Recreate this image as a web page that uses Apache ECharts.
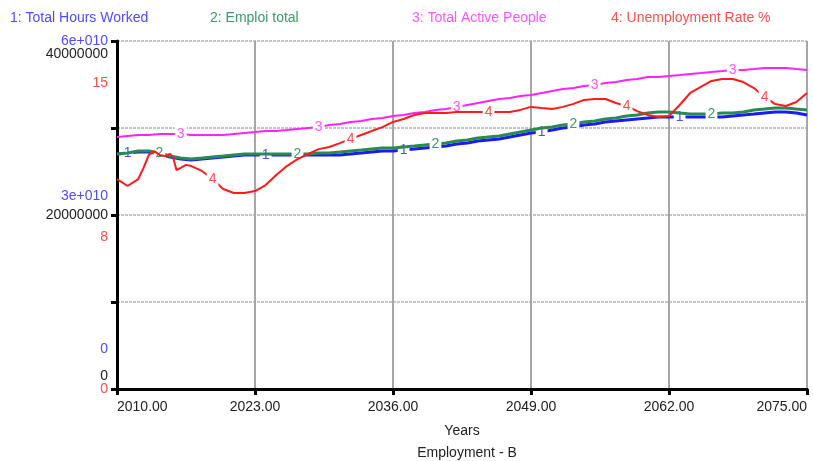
<!DOCTYPE html>
<html><head><meta charset="utf-8">
<script src="https://cdn.jsdelivr.net/npm/echarts@6/dist/echarts.min.js"></script>
<style>html,body{margin:0;padding:0;background:#fff}#c{width:813px;height:461px}</style>
</head><body><div id="c"></div>
<script>
const years = [2010,2011,2012,2013,2014,2015,2016,2017,2018,2019,2020,2021,2022,2023,2024,2025,2026,2027,2028,2029,2030,2031,2032,2033,2034,2035,2036,2037,2038,2039,2040,2041,2042,2043,2044,2045,2046,2047,2048,2049,2050,2051,2052,2053,2054,2055,2056,2057,2058,2059,2060,2061,2062,2063,2064,2065,2066,2067,2068,2069,2070,2071,2072,2073,2074,2075];
const hoursWorked = [4.052e10,4.069e10,4.086e10,4.086e10,4.052e10,4.000e10,3.966e10,3.948e10,3.966e10,3.983e10,4.000e10,4.017e10,4.034e10,4.034e10,4.034e10,4.034e10,4.034e10,4.034e10,4.034e10,4.034e10,4.034e10,4.034e10,4.052e10,4.069e10,4.086e10,4.103e10,4.103e10,4.121e10,4.138e10,4.155e10,4.172e10,4.190e10,4.224e10,4.241e10,4.276e10,4.293e10,4.310e10,4.345e10,4.379e10,4.414e10,4.431e10,4.466e10,4.500e10,4.517e10,4.552e10,4.569e10,4.603e10,4.621e10,4.638e10,4.655e10,4.672e10,4.690e10,4.690e10,4.690e10,4.690e10,4.690e10,4.690e10,4.690e10,4.707e10,4.724e10,4.741e10,4.759e10,4.776e10,4.776e10,4.759e10,4.724e10];
const emploiTotal = [27.01e6,27.13e6,27.36e6,27.36e6,27.13e6,26.78e6,26.55e6,26.44e6,26.55e6,26.67e6,26.78e6,26.90e6,27.01e6,27.01e6,27.01e6,27.01e6,27.01e6,27.01e6,27.01e6,27.13e6,27.13e6,27.24e6,27.36e6,27.47e6,27.59e6,27.70e6,27.70e6,27.82e6,27.93e6,28.05e6,28.16e6,28.28e6,28.51e6,28.62e6,28.85e6,28.97e6,29.08e6,29.31e6,29.54e6,29.77e6,30.00e6,30.11e6,30.34e6,30.46e6,30.69e6,30.80e6,31.03e6,31.15e6,31.38e6,31.49e6,31.72e6,31.84e6,31.84e6,31.72e6,31.61e6,31.61e6,31.61e6,31.72e6,31.72e6,31.84e6,32.07e6,32.18e6,32.30e6,32.30e6,32.18e6,32.07e6];
const activePeople = [28.97e6,29.08e6,29.19e6,29.19e6,29.31e6,29.31e6,29.31e6,29.19e6,29.19e6,29.19e6,29.19e6,29.31e6,29.43e6,29.54e6,29.66e6,29.66e6,29.77e6,29.89e6,30.00e6,30.11e6,30.34e6,30.46e6,30.69e6,30.80e6,31.03e6,31.15e6,31.38e6,31.49e6,31.72e6,31.84e6,32.07e6,32.18e6,32.41e6,32.64e6,32.87e6,33.10e6,33.33e6,33.45e6,33.68e6,33.79e6,34.02e6,34.25e6,34.48e6,34.60e6,34.83e6,34.94e6,35.17e6,35.29e6,35.52e6,35.63e6,35.86e6,35.86e6,35.98e6,36.09e6,36.21e6,36.32e6,36.44e6,36.55e6,36.67e6,36.67e6,36.78e6,36.90e6,36.90e6,36.90e6,36.78e6,36.67e6];
const unempYears = [2010,2011,2012,2012.5,2013,2013.5,2014,2014.5,2015,2015.3,2015.6,2016,2016.5,2017,2018,2019,2020,2021,2022,2023,2024,2025,2026,2027,2028,2029,2030,2031,2032,2033,2034,2035,2036,2037,2038,2039,2040,2041,2042,2043,2044,2045,2046,2047,2048,2049,2050,2051,2052,2053,2054,2055,2056,2057,2058,2059,2060,2061,2062,2063,2064,2065,2066,2067,2068,2069,2070,2071,2072,2073,2074,2075];
const unempRate = [9.05,8.75,9.05,9.53,10.09,10.26,10.09,10.04,10.13,9.96,9.44,9.53,9.66,9.61,9.40,9.05,8.62,8.45,8.45,8.53,8.79,9.22,9.61,9.91,10.13,10.34,10.43,10.60,10.78,10.95,11.12,11.29,11.51,11.64,11.81,11.90,11.90,11.90,11.94,11.94,11.94,11.94,11.94,11.94,12.03,12.16,12.11,12.07,12.16,12.29,12.46,12.50,12.50,12.33,12.20,11.98,11.81,11.72,11.77,12.24,12.76,13.02,13.28,13.36,13.36,13.23,12.97,12.59,12.28,12.20,12.37,12.76];
const seriesNames = ['Total Hours Worked','Emploi total','Total Active People','Unemployment Rate %'];
const labelYears = [[2011,2024,2037,2050,2063],[2014,2027,2040,2053,2066],[2016,2029,2042,2055,2068],[2019,2032,2045,2058,2071]];
const xMin = 2010, xMax = 2075, xStep = 13;

const lineColors = ['#1a1aff','#2a8a50','#ff22ff','#ff1a1a'];
const textColors = ['#4d4dff','#3a9a66','#ff55ff','#ff4d4d'];
const FONT = 'Liberation Sans, Arial, sans-serif';

function makeData(xs, ys, idx) {
  return xs.map((x, i) => {
    const item = { value: [x, ys[i]] };
    if (labelYears[idx].indexOf(x) >= 0) item.label = { show: true };
    return item;
  });
}
// shift label vertically (Vensim-style staggering)
function shifted(text, shift) {
  if (!shift) return text;
  const k = 'h' + Math.abs(shift);
  if (shift < 0) return `{${k}|${text}}\n{${k}| }\n{${k}| }`;
  return `{${k}| }\n{${k}| }\n{${k}|${text}}`;
}
function richFor(color, shifts) {
  const r = {};
  shifts.forEach(s => { r['h' + s] = { lineHeight: s, fontSize: 14, color: color, fontFamily: FONT }; });
  return r;
}

const chart = echarts.init(document.getElementById('c'), null, { renderer: 'canvas' });
const legendX = [0, 200, 402, 601];
const valueSets = [[years, hoursWorked, 0], [years, emploiTotal, 1], [years, activePeople, 1], [unempYears, unempRate, 2]];

const option = {
  animation: false,
  backgroundColor: '#fff',
  textStyle: { fontFamily: FONT },
  legend: seriesNames.map((n, i) => ({
    data: [n], left: legendX[i], top: 6, icon: 'none', itemWidth: 0, itemHeight: 14,
    selectedMode: false,
    formatter: (name) => (i + 1) + ': ' + name,
    textStyle: { color: textColors[i], fontSize: 14, fontFamily: FONT }
  })),
  grid: { left: 117, right: 6, top: 41, bottom: 72, containLabel: false, outerBoundsMode: 'none' },
  xAxis: {
    type: 'value', min: xMin, max: xMax, interval: xStep,
    name: 'Years', nameLocation: 'middle', nameGap: 35,
    nameTextStyle: { color: '#222', fontSize: 14, fontFamily: FONT },
    axisLine: { show: true, lineStyle: { color: '#000', width: 3 } },
    axisTick: { show: true, length: 6, lineStyle: { color: '#000', width: 3 } },
    axisLabel: { color: '#222', fontSize: 14, margin: 11, fontFamily: FONT,
      alignMinLabel: 'left', alignMaxLabel: 'right',
      formatter: v => v.toFixed(2) },
    splitLine: { show: true, lineStyle: { color: '#a6a6a6', width: 2 } }
  },
  yAxis: [
    { // hours worked (blue)
      type: 'value', min: 0, max: 6e10, interval: 3e10, position: 'left',
      axisLine: { show: false }, axisTick: { show: false }, splitLine: { show: false },
      axisLabel: { margin: 9, fontSize: 14, color: textColors[0], fontFamily: FONT,
        rich: richFor(textColors[0], [19, 40]),
        formatter: v => {
          if (v === 0) return shifted('0', -40);
          if (v === 3e10) return shifted('3e+010', -19);
          return shifted('6e+010', 0);
        } }
    },
    { // people (black)
      type: 'value', min: 0, max: 4e7, interval: 1e7, position: 'left',
      axisLine: { show: true, lineStyle: { color: '#000', width: 3 } },
      axisTick: { show: true, length: 6, lineStyle: { color: '#000', width: 3 } },
      splitLine: { show: true, lineStyle: { color: '#c4c4c4', width: 2, type: [3, 1] } },
      axisLabel: { margin: 9, fontSize: 14, color: '#222', fontFamily: FONT,
        rich: richFor('#222', [13]),
        formatter: v => {
          if (v === 0) return shifted('0', -13);
          if (v === 2e7) return shifted('20000000', 0);
          if (v === 4e7) return shifted('40000000', 13);
          return '';
        } }
    },
    { // unemployment (red)
      type: 'value', min: 0, max: 15, interval: 7.5, position: 'left',
      axisLine: { show: false }, axisTick: { show: false }, splitLine: { show: false },
      axisLabel: { margin: 9, fontSize: 14, color: textColors[3], fontFamily: FONT,
        rich: richFor(textColors[3], [22, 42]),
        formatter: v => {
          if (v === 0) return shifted('0', 0);
          if (v === 7.5) return shifted('8', 22);
          return shifted('15', 42);
        } }
    }
  ],
  series: valueSets.map((vs, i) => ({
    name: seriesNames[i], type: 'line', yAxisIndex: vs[2],
    data: makeData(vs[0], vs[1], i),
    symbol: 'circle', symbolSize: 0, showSymbol: true,
    lineStyle: { color: lineColors[i], width: i < 2 ? 3 : 2 },
    itemStyle: { color: lineColors[i] },
    label: { show: false, position: 'inside', formatter: String(i + 1), color: textColors[i],
      fontSize: 14, fontFamily: FONT, backgroundColor: '#fff', padding: [0, 2] },
    emphasis: { disabled: true }, silent: true, z: 2 + i
  })),
  graphic: [{ type: 'text', x: 467, y: 453,
    style: { text: 'Employment - B', fontSize: 14, fontFamily: FONT, fill: '#222', textAlign: 'center', textVerticalAlign: 'middle' } }]
};
chart.setOption(option);
</script></body></html>
